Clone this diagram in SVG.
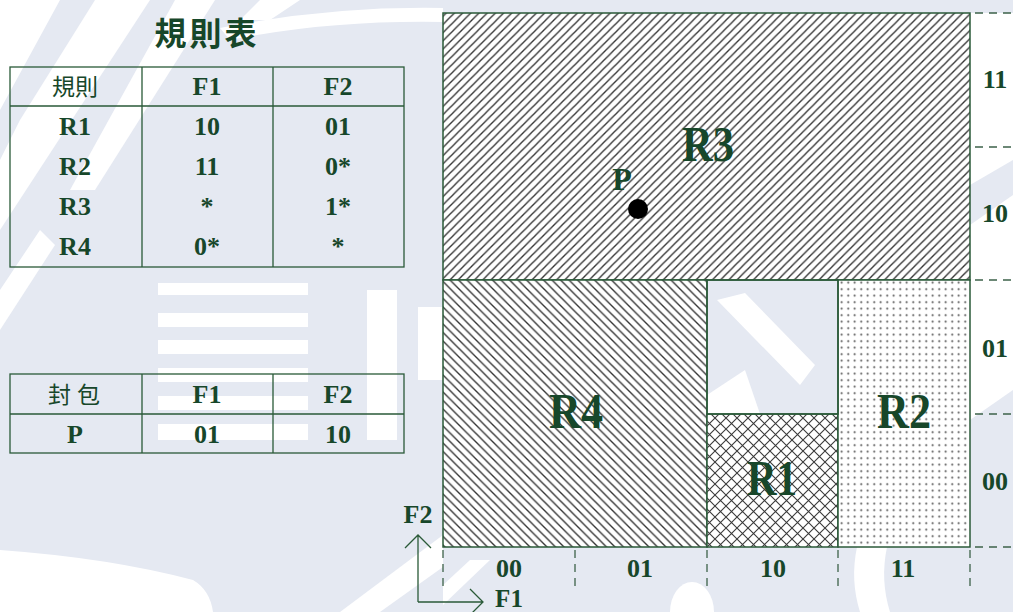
<svg xmlns="http://www.w3.org/2000/svg" width="1013" height="612" viewBox="0 0 1013 612">
<style>
.wm{fill:#e5e9f2}
.t{font-family:"Liberation Serif","Times New Roman",serif;font-weight:bold;fill:#17472a;text-anchor:middle}
.cjk{font-family:"Liberation Serif","Noto Sans CJK TC",serif;fill:#17472a;text-anchor:middle}
.grid{stroke:#2a5a38;stroke-width:1.5}
.tbl{fill:none;stroke:#2a5a38;stroke-width:1.3}
.dash{stroke:#3d6249;stroke-width:1.3;stroke-dasharray:8 6;fill:none}
.ax{stroke:#2a5a38;stroke-width:1.3;fill:none}
</style>
<defs>
<pattern id="hR3" patternUnits="userSpaceOnUse" width="8.2" height="8.2">
<rect width="8.2" height="8.2" fill="#fff"/>
<path d="M-2,2 L2,-2 M0,8.2 L8.2,0 M6.2,10.2 L10.2,6.2" stroke="#333" stroke-width="1.35"/>
</pattern>
<pattern id="hR4" patternUnits="userSpaceOnUse" width="8.5" height="8.5">
<rect width="8.5" height="8.5" fill="#fff"/>
<path d="M-2,6.5 L2,10.5 M0,0 L8.5,8.5 M6.5,-2 L10.5,2" stroke="#333" stroke-width="1.35"/>
</pattern>
<pattern id="hR1" patternUnits="userSpaceOnUse" width="11" height="11">
<rect width="11" height="11" fill="#fff"/>
<path d="M0,0 L11,11 M11,0 L0,11" stroke="#3a3a3a" stroke-width="1.1"/>
</pattern>
<pattern id="hR2" patternUnits="userSpaceOnUse" width="6.5" height="6.5">
<rect width="6.5" height="6.5" fill="#fff"/>
<circle cx="3.2" cy="3.2" r="1" fill="#555"/>
</pattern>
</defs>

<rect width="1013" height="612" fill="#fff"/>
<g id="watermark">
<path class="wm" d="M0,0 L443,0 L443,612 L213,612 Q210,590 193,580 Q110,558 0,550 Z"/>
<path d="M0,0 L150,0 L0,230 Z" fill="#fff"/>
<path d="M60,0 L95,0 L20,120 L0,160 L0,110 Z" class="wm"/>
<path d="M175,0 L215,0 L95,190 L70,190 Z" fill="#fff"/>
<path d="M0,290 L40,230 L55,245 L0,330 Z" fill="#fff"/>
<path d="M340,612 L380,612 L443,567 L443,535 Z" fill="#fff"/>
<path d="M230,40 Q330,20 443,22 L443,8 Q330,6 220,28 Z" fill="#fff"/>
<path d="M260,0 L300,0 L270,20 L240,20 Z" fill="#fff"/>
<rect x="158" y="283" width="150" height="12" fill="#fff"/>
<rect x="158" y="313" width="150" height="14" fill="#fff"/>
<rect x="158" y="340" width="150" height="14" fill="#fff"/>
<rect x="158" y="368" width="150" height="14" fill="#fff"/>
<rect x="158" y="396" width="150" height="14" fill="#fff"/>
<rect x="158" y="424" width="150" height="16" fill="#fff"/>
<rect x="367" y="290" width="30" height="150" fill="#fff"/>
<rect x="418" y="307" width="25" height="73" fill="#fff"/>
<rect x="443" y="0" width="570" height="13" class="wm"/>
<rect x="443" y="547" width="570" height="65" class="wm"/>
<path d="M443,585 L470,560 L490,560 L443,605 Z" fill="#fff"/>
<ellipse cx="692" cy="612" rx="22" ry="30" fill="#fff"/>
<path d="M857,547 L887,547 Q880,580 890,612 L860,612 Q850,580 857,547 Z" fill="#fff"/>
<rect x="707" y="280" width="131" height="134" class="wm"/>
<path d="M717,300 L745,293 L815,365 L800,385 Z" fill="#fff"/>
<path d="M707,395 L745,370 L760,414 L707,414 Z" fill="#fff"/>
<path d="M970,185 L1013,160 L1013,195 L970,225 Z" class="wm"/>
<path d="M970,420 L1013,390 L1013,547 L970,547 Z" class="wm"/>
</g>

<g id="region-R3">
<rect x="443" y="13" width="527" height="267" fill="url(#hR3)" class="grid"/>
<text class="t" x="708" y="161" font-size="50" textLength="52" lengthAdjust="spacingAndGlyphs">R3</text>
</g>
<g id="region-R4">
<rect x="443" y="280" width="264" height="267" fill="url(#hR4)" class="grid"/>
<text class="t" x="576" y="428" font-size="50" textLength="54" lengthAdjust="spacingAndGlyphs">R4</text>
</g>
<g id="region-R1">
<rect x="707" y="414" width="131" height="133" fill="url(#hR1)" class="grid"/>
<text class="t" x="772" y="495" font-size="50" textLength="50" lengthAdjust="spacingAndGlyphs">R1</text>
</g>
<g id="region-R2">
<rect x="838" y="280" width="132" height="267" fill="url(#hR2)" class="grid"/>
<text class="t" x="904" y="428" font-size="50" textLength="54" lengthAdjust="spacingAndGlyphs">R2</text>
</g>
<g id="empty-cell">
<rect x="707" y="280" width="131" height="134" fill="none" class="grid"/>
</g>
<g id="packet-P">
<circle cx="638" cy="209" r="10" fill="#000"/>
<text class="t" x="622" y="190" font-size="32">P</text>
</g>

<g id="connectors">
<path class="dash" d="M975,13 H1013 M975,147 H1013 M975,280 H1013 M975,414 H1013 M975,547 H1013"/>
<path class="dash" d="M443,550 V586 M575,550 V586 M707,550 V586 M838,550 V586 M970,550 V586"/>
<path class="ax" d="M418,602 V536 M405,548 L418,535 L431,548 M418,602 H483 M470,589 L483,602 L470,615"/>
</g>

<g id="axis-labels">
<text class="t" x="995" y="88" font-size="26">11</text>
<text class="t" x="995" y="222" font-size="26">10</text>
<text class="t" x="995" y="357" font-size="26">01</text>
<text class="t" x="995" y="490" font-size="26">00</text>
<text class="t" x="509" y="577" font-size="26">00</text>
<text class="t" x="640" y="577" font-size="26">01</text>
<text class="t" x="773" y="577" font-size="26">10</text>
<text class="t" x="903" y="577" font-size="26">11</text>
<text class="t" x="418" y="523" font-size="26">F2</text>
<text class="t" x="509" y="607" font-size="25">F1</text>
</g>

<g id="rule-table">
<text class="cjk" x="207" y="45" font-size="32" font-weight="bold" letter-spacing="3">規則表</text>
<rect class="tbl" x="10" y="67" width="394" height="200" fill="#fff"/>
<path class="tbl" d="M10,106 H404 M142,67 V267 M273,67 V267"/>
<text class="cjk" x="75" y="95" font-size="23">規則</text>
<text class="t" x="207" y="95" font-size="26">F1</text>
<text class="t" x="338" y="95" font-size="26">F2</text>
<text class="t" x="75" y="135" font-size="26">R1</text>
<text class="t" x="207" y="135" font-size="26">10</text>
<text class="t" x="338" y="135" font-size="26">01</text>
<text class="t" x="75" y="175" font-size="26">R2</text>
<text class="t" x="207" y="175" font-size="26">11</text>
<text class="t" x="338" y="175" font-size="26">0*</text>
<text class="t" x="75" y="215" font-size="26">R3</text>
<text class="t" x="207" y="215" font-size="26">*</text>
<text class="t" x="338" y="215" font-size="26">1*</text>
<text class="t" x="75" y="255" font-size="26">R4</text>
<text class="t" x="207" y="255" font-size="26">0*</text>
<text class="t" x="338" y="255" font-size="26">*</text>
</g>

<g id="packet-table">
<rect class="tbl" x="10" y="374" width="394" height="79" fill="#fff"/>
<path class="tbl" d="M10,414 H404 M142,374 V453 M273,374 V453"/>
<text class="cjk" x="77" y="403" font-size="23" letter-spacing="6">封包</text>
<text class="t" x="207" y="403" font-size="26">F1</text>
<text class="t" x="338" y="403" font-size="26">F2</text>
<text class="t" x="75" y="443" font-size="26">P</text>
<text class="t" x="207" y="443" font-size="26">01</text>
<text class="t" x="338" y="443" font-size="26">10</text>
</g>
</svg>
